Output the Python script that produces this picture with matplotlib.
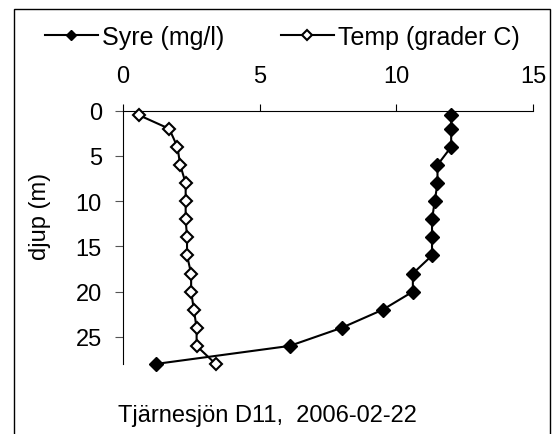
import numpy as np
import matplotlib
matplotlib.use("Agg")
import matplotlib.pyplot as plt
from matplotlib.patches import Rectangle

plt.rcParams['font.family'] = ['Liberation Sans', 'DejaVu Sans']

# data
djup = [0.5, 2, 4, 6, 8, 10, 12, 14, 16, 18, 20, 22, 24, 26, 28]
syre = [12.0, 12.0, 12.0, 11.5, 11.5, 11.4, 11.3, 11.3, 11.3, 10.6, 10.6, 9.5, 8.0, 6.1, 1.2]
temp = [0.6, 1.7, 2.0, 2.1, 2.3, 2.3, 2.3, 2.35, 2.35, 2.5, 2.5, 2.6, 2.7, 2.7, 3.4]
x_ticks = [0, 5, 10, 15]
y_ticks = [0, 5, 10, 15, 20, 25]

W, H = 552, 435
FS = 17
fig = plt.figure(figsize=(W / 100, H / 100), dpi=100)
ax = fig.add_axes([122.7 / W, 1 - 365 / H, (533.3 - 122.7) / W, (365 - 111.7) / H])

ax.plot(syre, djup, color='black', lw=1.5, marker='D', ms=7, mfc='black', mec='black',
        mew=1.0, label='Syre (mg/l)', clip_on=False, zorder=3)
ax.plot(temp, djup, color='black', lw=1.5, marker='D', ms=6.5, mfc='white', mec='black',
        mew=1.5, label='Temp (grader C)', clip_on=False, zorder=3)

ax.set_xlim(0, 15)
ax.set_ylim(28, 0)
ax.set_xticks(x_ticks)
ax.set_yticks(y_ticks)
ax.xaxis.tick_top()
ax.tick_params(axis='x', direction='out', length=5, width=0.8, pad=12, labelsize=FS)
ax.tick_params(axis='y', direction='out', length=6, width=0.8, pad=9, labelsize=FS, color='#555555')
for s in ['right', 'bottom']:
    ax.spines[s].set_visible(False)
for s in ['left', 'top']:
    ax.spines[s].set_linewidth(0.8)

fig.text(40 / W, 1 - 216 / H, 'djup (m)', rotation=90, ha='center', va='center', fontsize=FS)
fig.text(267 / W, 1 - 416 / H, 'Tjärnesjön D11,  2006-02-22', ha='center', va='center', fontsize=FS)

leg = fig.legend(loc='center left', bbox_to_anchor=(45 / W, 1 - 38 / H), ncol=2, frameon=False,
                 fontsize=18, handlelength=2.1, handletextpad=0.2, columnspacing=2.25,
                 markerscale=0.8, borderpad=0, borderaxespad=0)

# frame around the chart area
fig.patches.append(Rectangle((13.5 / W, -0.05), (550 - 13.5) / W, 1.05 - 10 / H,
                             transform=fig.transFigure, fill=False, edgecolor='black',
                             lw=1.0, clip_on=False))

fig.savefig('out.png', dpi=100)
